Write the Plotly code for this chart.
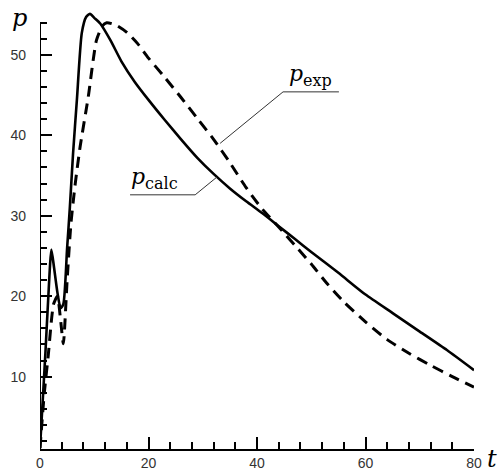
import plotly.graph_objects as go

# p_calc (solid)
t_calc = [0, 0.5, 1.0, 1.5, 2.1, 2.6, 3.2, 3.8, 4.3, 5.0, 5.5, 6.1, 6.8, 7.7, 8.5, 9.2, 10.0,
          11.1, 13.0, 15.0, 17.5, 20.0, 23.0, 26.0, 29.0, 32.0, 35.0, 38.0, 41.0, 44.0, 47.0,
          50.0, 55.0, 60.0, 65.0, 70.0, 75.0, 80.0]
p_calc = [1.1, 7.0, 13.0, 19.5, 25.8, 23.5, 20.5, 18.5, 19.0, 26.0, 31.0, 37.8, 44.4, 52.7, 54.7, 55.1, 54.6,
          53.9, 51.8, 49.2, 46.6, 44.4, 41.9, 39.5, 37.2, 35.2, 33.4, 31.8, 30.3, 28.7, 27.1,
          25.5, 22.9, 20.2, 17.9, 15.6, 13.3, 10.8]

# p_exp (dashed)
t_exp = [0, 0.8, 1.5, 2.5, 3.2, 3.8, 4.3, 5.0, 5.7, 6.5, 7.4, 8.9, 10.4, 11.5, 12.3,
         14.0, 16.0, 18.0, 20.0, 23.0, 26.0, 29.0, 32.0, 35.0, 38.0, 41.0, 44.0, 47.0,
         50.0, 53.0, 56.0, 60.0, 64.0, 68.0, 72.0, 76.0, 80.0]
p_exp = [1.1, 8.0, 12.5, 19.0, 20.0, 17.0, 14.1, 22.0, 29.0, 34.0, 38.6, 44.8, 51.8, 53.6, 54.0,
         53.7, 52.8, 51.4, 49.6, 47.2, 44.7, 42.1, 39.5, 36.6, 33.5, 30.8, 28.6, 26.3,
         24.0, 21.5, 19.3, 16.8, 14.6, 12.9, 11.4, 10.0, 8.7]

x_major = [0, 20, 40, 60, 80]
x_minor = [v for v in range(0, 81, 4)]
y_major = [10, 20, 30, 40, 50]
y_minor = [v for v in range(2, 55, 2)]

XR = [0, 80]
YR = [1.0, 55.95]

fig = go.Figure()
fig.add_trace(go.Scatter(x=t_calc, y=p_calc, mode="lines",
                         line=dict(color="black", width=2.6, shape="spline", smoothing=0.6),
                         showlegend=False))
fig.add_trace(go.Scatter(x=t_exp, y=p_exp, mode="lines",
                         line=dict(color="black", width=3, dash="11px,7px", shape="spline", smoothing=0.6),
                         showlegend=False))

tickfont = dict(family="Liberation Sans, Arial, sans-serif", size=14, color="#333")

fig.update_layout(
    template="none",
    xaxis=dict(range=XR, showline=True, linewidth=2, linecolor="black",
               tickmode="array", tickvals=x_major, ticks="inside", ticklen=12, tickwidth=2,
               tickcolor="black", showgrid=False, zeroline=False, tickfont=tickfont),
    yaxis=dict(range=YR, showline=False,
               tickmode="array", tickvals=y_major, ticks="inside", ticklen=12, tickwidth=2,
               tickcolor="black", showgrid=False, zeroline=False, tickfont=tickfont,
               ticklabelstandoff=13),
    xaxis2=dict(range=XR, overlaying="x", side="bottom", anchor="y",
                tickmode="array", tickvals=x_minor, ticks="inside", ticklen=7, tickwidth=1.5,
                tickcolor="black", showticklabels=False, showgrid=False, zeroline=False,
                showline=False),
    yaxis2=dict(range=YR, overlaying="y", side="left", anchor="x",
                tickmode="array", tickvals=y_minor, ticks="inside", ticklen=7, tickwidth=1.5,
                tickcolor="black", showticklabels=False, showgrid=False, zeroline=False,
                showline=False),
)
# invisible trace to activate the minor-tick axes
fig.add_trace(go.Scatter(x=[None], y=[None], xaxis="x2", yaxis="y2", showlegend=False,
                         hoverinfo="skip"))

# y axis line (stops at 54)
fig.add_shape(type="line", x0=0, x1=0, y0=1.0, y1=54, xref="x", yref="y",
              line=dict(color="black", width=2))

# leader lines
lc = dict(color="#333", width=1)
fig.add_shape(type="line", x0=33.2, y0=39.0, x1=44.8, y1=45.4, line=lc)
fig.add_shape(type="line", x0=44.8, y0=45.4, x1=55.1, y1=45.4, line=lc)
fig.add_shape(type="line", x0=32.6, y0=34.8, x1=28.6, y1=32.6, line=lc)
fig.add_shape(type="line", x0=28.6, y0=32.6, x1=16.6, y1=32.6, line=lc)

serif = "DejaVu Serif, Liberation Serif, serif"
fig.add_annotation(x=45.6, y=45.4, xanchor="left", yanchor="bottom", showarrow=False,
                   text="<i>p</i><sub><span style='font-size:16px'>exp</span></sub>",
                   font=dict(family=serif, size=22, color="black"))
fig.add_annotation(x=16.4, y=32.6, xanchor="left", yanchor="bottom", showarrow=False,
                   text="<i>p</i><sub><span style='font-size:16px'>calc</span></sub>",
                   font=dict(family=serif, size=22, color="black"))
fig.add_annotation(x=-0.048, y=0.975, xref="paper", yref="paper", xanchor="center",
                   yanchor="middle", showarrow=False,
                   text="<i>p</i>", font=dict(family=serif, size=24, color="black"))
fig.add_annotation(x=1.0415, y=-0.022, xref="paper", yref="paper", xanchor="center",
                   yanchor="middle", showarrow=False,
                   text="<i>t</i>", font=dict(family=serif, size=24, color="black"))

fig.update_layout(width=501, height=472, margin=dict(l=40, r=27, t=7, b=23),
                  plot_bgcolor="white", paper_bgcolor="white")

fig.write_html("out.html")
